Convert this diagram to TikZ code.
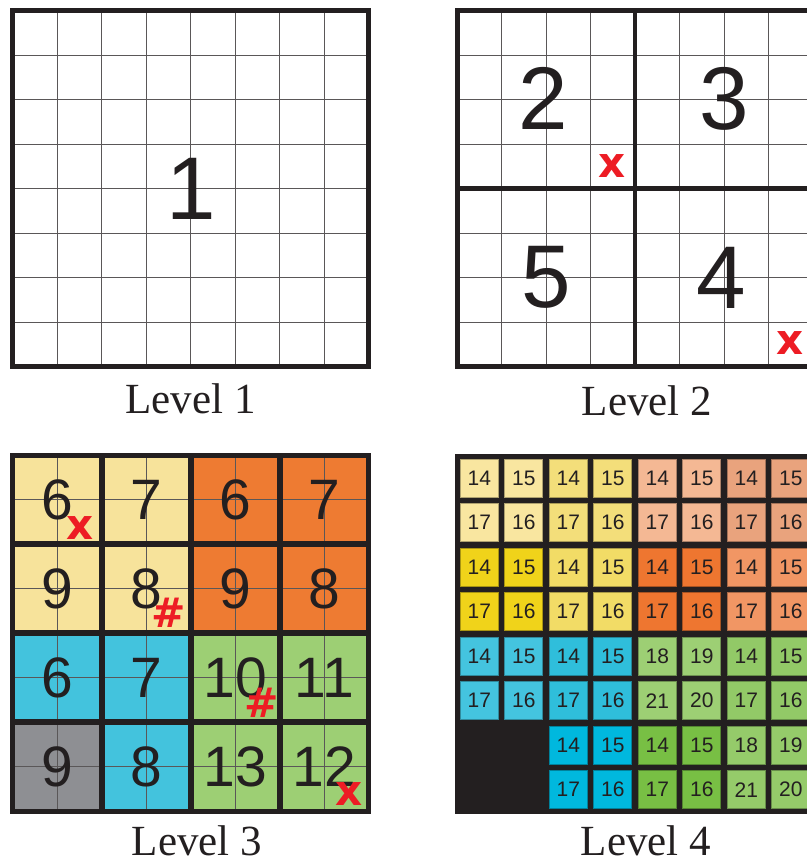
\documentclass[tikz,border=0pt]{standalone}
\usepackage{fontspec}
\setmainfont{Liberation Serif}
\newfontfamily\digitfont{Liberation Sans}
\newfontfamily\markfont{DejaVu Sans}
\usetikzlibrary{positioning}

\definecolor{ink}{HTML}{231F20}
\definecolor{redmk}{HTML}{ED1C24}
% level 3 colours
\definecolor{lthreeY}{HTML}{F7E39B}
\definecolor{lthreeO}{HTML}{EE7B32}
\definecolor{lthreeC}{HTML}{43C3DD}
\definecolor{lthreeG}{HTML}{9DCF74}
\definecolor{lthreeK}{HTML}{8E8F93}
% level 4 colours
\definecolor{pale}{HTML}{F9E6A0}
\definecolor{yel}{HTML}{F3DE7A}
\definecolor{peach}{HTML}{F4B894}
\definecolor{salmon}{HTML}{E9A37D}
\definecolor{gold}{HTML}{F0D31A}
\definecolor{yeltwo}{HTML}{F2DC66}
\definecolor{orng}{HTML}{EE7630}
\definecolor{lorng}{HTML}{F19664}
\definecolor{cyan}{HTML}{44C4DF}
\definecolor{cyantwo}{HTML}{2FBEDB}
\definecolor{dcyan}{HTML}{00B8DE}
\definecolor{lgrn}{HTML}{9DCF74}
\definecolor{grn}{HTML}{92C967}
\definecolor{grntwo}{HTML}{78BF44}
\definecolor{lgrntwo}{HTML}{95CB6A}

\begin{document}
\begin{tikzpicture}[
  x=1pt, y=-1pt,
  frame/.style={draw=ink, line width=5pt},
  divider/.style={draw=ink, line width=4.5pt},
  gridline/.style={draw=ink!75, line width=0.9pt},
  bignum/.style={font=\digitfont\fontsize{89}{89}\selectfont, text=ink, inner sep=0pt},
  midnum/.style={font=\digitfont\fontsize{57}{57}\selectfont, text=ink, inner sep=0pt},
  tinynum/.style={font=\digitfont\fontsize{21}{21}\selectfont, text=ink, inner sep=0pt},
  redmark/.style={font=\markfont\bfseries\fontsize{42}{42}\selectfont, text=redmk, inner sep=0pt},
  hashmark/.style={font=\markfont\bfseries\fontsize{41}{41}\selectfont, text=redmk, inner sep=0pt},
  tile/.style={line width=0.6pt, minimum size=38pt, inner sep=0pt},
  caption/.style={font=\fontsize{43}{43}\selectfont, text=ink, anchor=base, inner sep=0pt}
]
\useasboundingbox (0,0) rectangle (806,858);
\fill[white] (0,0) rectangle (806,858);

% Level 1
\begin{scope}[shift={(12.75,10.5)}]
  \foreach \k in {1,...,7} {
    \draw[gridline] (\k*44.5,0) -- (\k*44.5,356);
    \draw[gridline] (0,\k*44.5) -- (356,\k*44.5);
  }
  \draw[frame] (0,0) rectangle (356,356);
  \node[bignum] (n1) at (178,178) {1};
\end{scope}
\node[caption] (cap1) at (190.5,413) {Level 1};

% Level 2
\begin{scope}[shift={(457,10.5)}]
  \foreach \k in {1,...,7} {
    \draw[gridline] (\k*44.5,0) -- (\k*44.5,356);
    \draw[gridline] (0,\k*44.5) -- (356,\k*44.5);
  }
  \draw[divider] (178,0) -- (178,356);
  \draw[divider] (0,178) -- (356,178);
  \draw[frame] (0,0) rectangle (356,356);
  \node[bignum] (n2) at (86,88) {2};
  \node[bignum] (n3) at (267,88) {3};
  \node[bignum] (n5) at (89,267) {5};
  \node[bignum] (n4) at (264,267) {4};
  \node[redmark] (x2) at (155,156) {x};
  \node[redmark] (x4) at (333,333) {x};
\end{scope}
\node[caption] (cap2) at (647,415) {Level 2};

% Level 3
\begin{scope}[shift={(12.75,455)}]
  \foreach \gx/\gy/\col/\num in {0/0/lthreeY/6, 1/0/lthreeY/7, 2/0/lthreeO/6, 3/0/lthreeO/7,
                                 0/1/lthreeY/9, 1/1/lthreeY/8, 2/1/lthreeO/9, 3/1/lthreeO/8,
                                 0/2/lthreeC/6, 1/2/lthreeC/7, 2/2/lthreeG/10, 3/2/lthreeG/11,
                                 0/3/lthreeK/9, 1/3/lthreeC/8, 2/3/lthreeG/13, 3/3/lthreeG/12} {
    \fill[\col] (\gx*89,\gy*89) rectangle (\gx*89+89,\gy*89+89);
    \draw[gridline] (\gx*89+44.5,\gy*89) -- (\gx*89+44.5,\gy*89+89);
    \draw[gridline] (\gx*89,\gy*89+44.5) -- (\gx*89+89,\gy*89+44.5);
    \node[midnum] (b\gx\gy) at (\gx*89+44.5,\gy*89+44.5) {\num};
  }
  \foreach \k in {1,2,3} {
    \draw[divider, line width=5.5pt] (\k*89,0) -- (\k*89,356);
    \draw[divider, line width=5.5pt] (0,\k*89) -- (356,\k*89);
  }
  \draw[frame] (0,0) rectangle (356,356);
  \node[redmark] (x6) at (67,73) {x};
  \node[hashmark] (h8) at (156,157.5) {\#};
  \node[hashmark] (h10) at (249,248) {\#};
  \node[redmark] (x12) at (336,339.5) {x};
\end{scope}
\node[caption] (cap3) at (197,855) {Level 3};

% Level 4
\begin{scope}[shift={(457,456)}]
  \fill[ink] (-2.5,-2.5) rectangle (358,357.5);
  \foreach \gx/\gy/\col/\nw/\ne/\sw/\se in {0/0/pale/14/15/17/16, 1/0/yel/14/15/17/16,
        2/0/peach/14/15/17/16, 3/0/salmon/14/15/17/16,
        0/1/gold/14/15/17/16, 1/1/yeltwo/14/15/17/16,
        2/1/orng/14/15/17/16, 3/1/lorng/14/15/17/16,
        0/2/cyan/14/15/17/16, 1/2/cyantwo/14/15/17/16,
        2/2/lgrn/18/19/21/20, 3/2/grn/14/15/17/16,
        1/3/dcyan/14/15/17/16, 2/3/grntwo/14/15/17/16,
        3/3/lgrntwo/18/19/21/20} {
    \node[tile, fill=\col, draw=\col!70!black] (t\gx\gy a) at (\gx*89+22.25,\gy*89+22.25) {};
    \node[tile, fill=\col, draw=\col!70!black] (t\gx\gy b) at (\gx*89+66.75,\gy*89+22.25) {};
    \node[tile, fill=\col, draw=\col!70!black] (t\gx\gy c) at (\gx*89+22.25,\gy*89+66.75) {};
    \node[tile, fill=\col, draw=\col!70!black] (t\gx\gy d) at (\gx*89+66.75,\gy*89+66.75) {};
    \node[tinynum] at (t\gx\gy a) {\nw};
    \node[tinynum] at (t\gx\gy b) {\ne};
    \node[tinynum] at (t\gx\gy c) {\sw};
    \node[tinynum] at (t\gx\gy d) {\se};
  }
\end{scope}
\node[caption] (cap4) at (646,855) {Level 4};

\end{tikzpicture}
\end{document}
